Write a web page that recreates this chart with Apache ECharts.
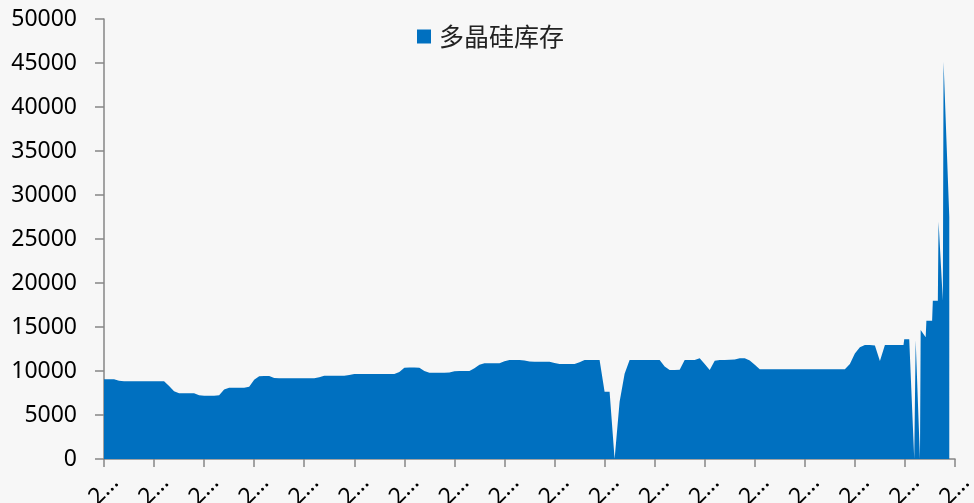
<!DOCTYPE html>
<html>
<head>
<meta charset="utf-8">
<script src="https://cdn.jsdelivr.net/npm/echarts@6/dist/echarts.min.js"></script>
<style>
html,body{margin:0;padding:0;background:#f7f7f7;}
#c{width:974px;height:503px;}
</style>
</head>
<body>
<div id="c"></div>
<script>
// Weekly inventory values (one per week, starting at day 0)
var weeklyValues = [
  9050, 9050, 9050, 8880,
  8830, 8830, 8830, 8830, 8830, 8830, 8830, 8830, 8830,
  8300, 7700, 7460, 7460, 7460, 7460, 7250, 7200, 7200, 7200, 7250,
  7900, 8100, 8100, 8100, 8100, 8200, 9000, 9400, 9430, 9430, 9200,
  9170, 9170, 9170, 9170, 9170, 9170, 9170, 9170,
  9300, 9450, 9450, 9450, 9450, 9450, 9550,
  9650, 9650, 9650, 9650, 9650, 9650, 9650, 9650, 9650,
  9900, 10380, 10400, 10400, 10380, 10000,
  9810, 9810, 9810, 9810, 9820, 9980, 10000, 10000, 10000,
  10300, 10700, 10870, 10870, 10870, 10870,
  11100, 11250, 11250, 11250, 11200, 11070,
  11060, 11060, 11060, 11060, 10900,
  10800, 10800, 10800, 10800, 11000,
  11250, 11250, 11250, 11250, 7650, 7650, 0, 6500, 9700,
  11250, 11250, 11250, 11250, 11250, 11250, 11250,
  10500, 10110, 10110, 10150, 11250, 11250, 11250, 11450, 10800, 10110,
  11170, 11250, 11250, 11270, 11300, 11440, 11440, 11200, 10700,
  10190, 10190, 10190, 10190, 10190, 10190, 10190, 10190, 10190,
  10190, 10190, 10190, 10190, 10190, 10190, 10190, 10190, 10190,
  10800, 12000, 12700, 12950, 12950, 12900, 11140,
  12950, 12950, 12950, 12950
];
// Denser readings at the end of the series (day number, value)
var tailDays   = [1118, 1119, 1126, 1133, 1135, 1141, 1142, 1149, 1150, 1158, 1159, 1166, 1167, 1173, 1174, 1182];
var tailValues = [12950, 13600, 13600, 0, 13500, 0, 14660, 13830, 15720, 15720, 17990, 17990, 26970, 18000, 45150, 27530];
// Date labels at each x tick (every 70 days)
var tickLabels = ['2020-01-03','2020-03-13','2020-05-22','2020-07-31','2020-10-09','2020-12-18',
  '2021-02-26','2021-05-07','2021-07-16','2021-09-24','2021-12-03','2022-02-11',
  '2022-04-22','2022-07-01','2022-09-09','2022-11-18','2023-01-27','2023-04-07'];
var seriesName = '多晶硅库存';

var data = [];
for (var i = 0; i < weeklyValues.length; i++) data.push([i * 7, weeklyValues[i]]);
for (var j = 0; j < tailDays.length; j++) data.push([tailDays[j], tailValues[j]]);

var chart = echarts.init(document.getElementById('c'), null, {renderer:'canvas'});
chart.setOption({
  backgroundColor: '#f7f7f7',
  animation: false,
  grid: {left: 104, right: 19, top: 19, bottom: 44, containLabel: false, outerBoundsMode: 'none'},
  legend: {
    data: [seriesName],
    left: 417, top: 24, padding: 0,
    icon: 'rect', itemWidth: 14, itemHeight: 14, itemGap: 10,
    textStyle: {fontFamily: 'Noto Sans CJK SC', fontSize: 25, color: '#222', padding: [0,0,0,3]}
  },
  xAxis: {
    type: 'value', min: 0, max: 1190, interval: 70,
    axisLine: {show: true, lineStyle: {color: '#868686', width: 1.5}},
    axisTick: {show: true, length: 8, lineStyle: {color: '#868686', width: 1.5}},
    splitLine: {show: false},
    axisLabel: {
      rotate: 45, align: 'center', verticalAlign: 'middle', margin: 31,
      fontFamily: 'Noto Sans', fontSize: 23, color: '#000',
      showMaxLabel: true, showMinLabel: true,
      formatter: function (v) {
        var s = tickLabels[Math.round(v / 70)] || '';
        return s.charAt(0) + '…';
      }
    }
  },
  yAxis: {
    type: 'value', min: 0, max: 50000, interval: 5000,
    axisLine: {show: true, lineStyle: {color: '#868686', width: 1.5}},
    axisTick: {show: true, length: 9, lineStyle: {color: '#868686', width: 1.5}},
    splitLine: {show: false},
    axisLabel: {margin: 27, fontFamily: 'Noto Sans', fontSize: 23, color: '#000',
      formatter: function (v) { return String(v); }}
  },
  series: [{
    name: seriesName,
    type: 'line',
    data: data,
    symbol: 'none',
    smooth: false,
    sampling: null,
    lineStyle: {width: 0, color: '#0070c0'},
    itemStyle: {color: '#0070c0'},
    areaStyle: {color: '#0070c0', opacity: 1},
    z: 1
  }]
});
</script>
</body>
</html>
